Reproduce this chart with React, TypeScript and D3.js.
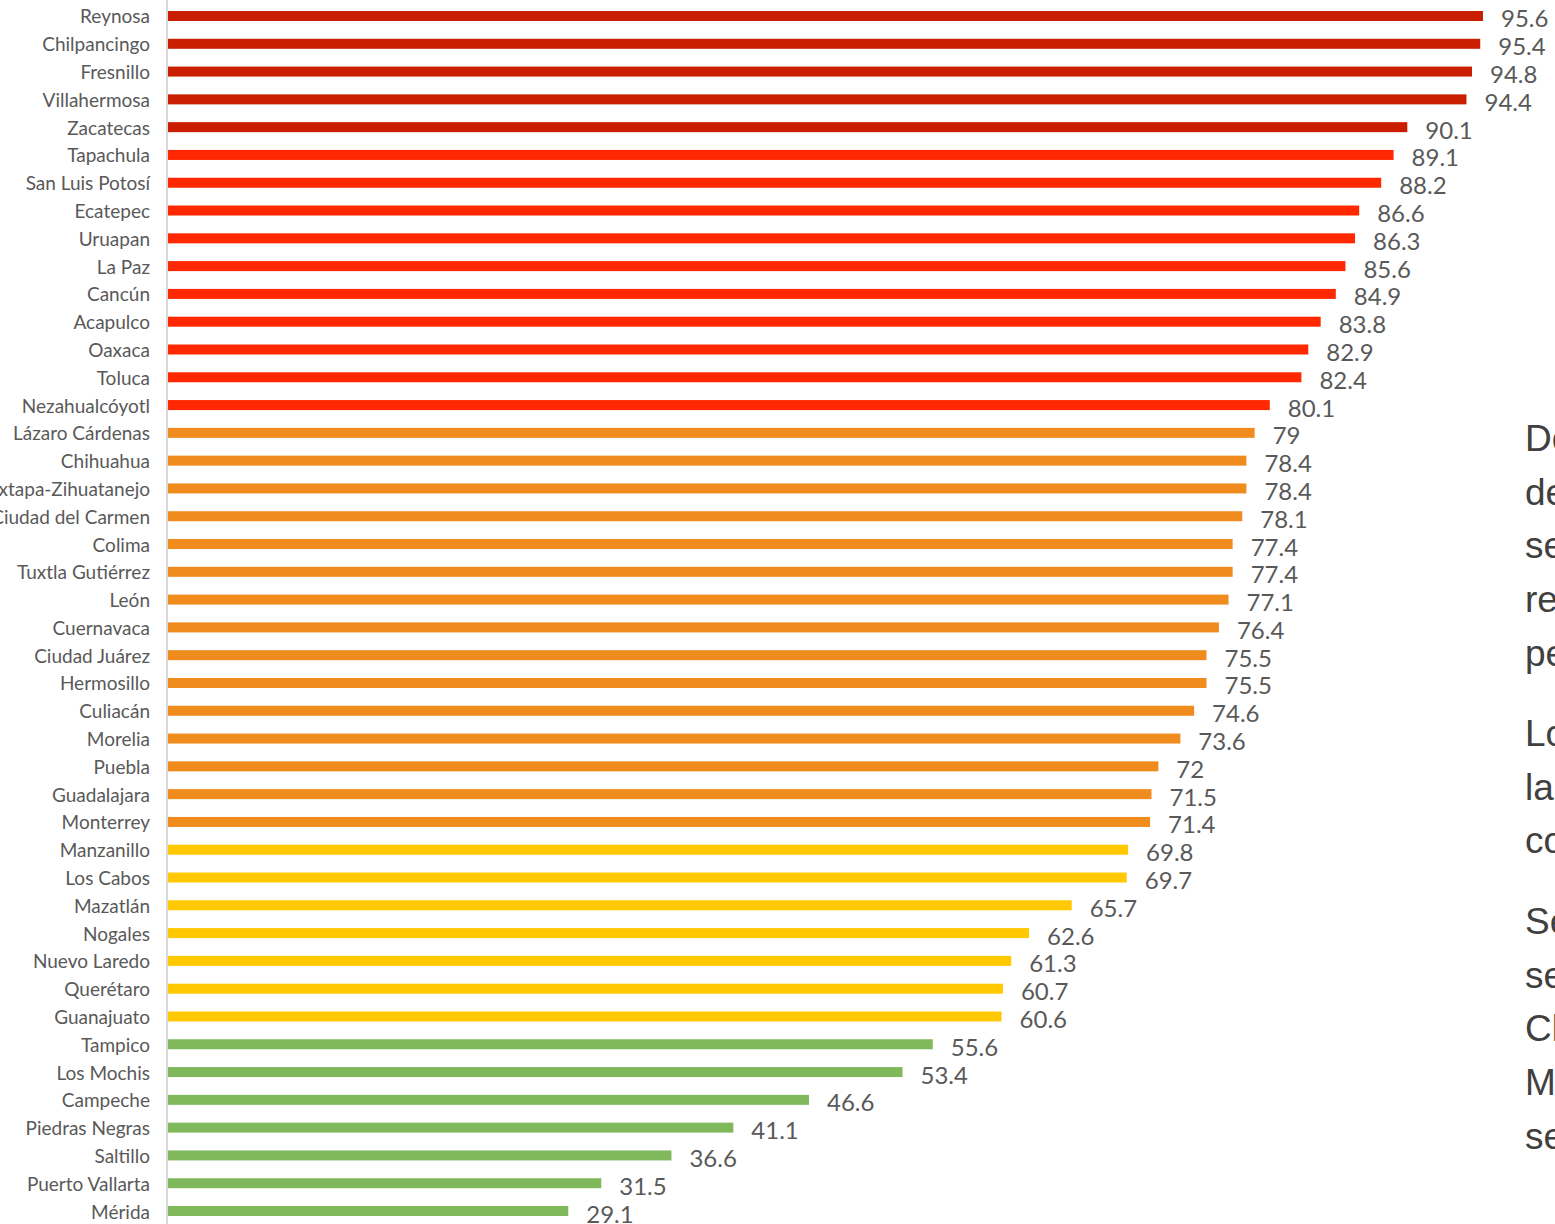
import * as d3 from "d3";

// cities ordered as in the chart, top to bottom
const cities = [
  "Reynosa", "Chilpancingo", "Fresnillo", "Villahermosa", "Zacatecas",
  "Tapachula", "San Luis Potosí", "Ecatepec", "Uruapan", "La Paz",
  "Cancún", "Acapulco", "Oaxaca", "Toluca", "Nezahualcóyotl",
  "Lázaro Cárdenas", "Chihuahua", "Ixtapa-Zihuatanejo", "Ciudad del Carmen", "Colima",
  "Tuxtla Gutiérrez", "León", "Cuernavaca", "Ciudad Juárez", "Hermosillo",
  "Culiacán", "Morelia", "Puebla", "Guadalajara", "Monterrey",
  "Manzanillo", "Los Cabos", "Mazatlán", "Nogales", "Nuevo Laredo",
  "Querétaro", "Guanajuato", "Tampico", "Los Mochis", "Campeche",
  "Piedras Negras", "Saltillo", "Puerto Vallarta", "Mérida",
];

const values = [
  95.6, 95.4, 94.8, 94.4, 90.1,
  89.1, 88.2, 86.6, 86.3, 85.6,
  84.9, 83.8, 82.9, 82.4, 80.1,
  79, 78.4, 78.4, 78.1, 77.4,
  77.4, 77.1, 76.4, 75.5, 75.5,
  74.6, 73.6, 72, 71.5, 71.4,
  69.8, 69.7, 65.7, 62.6, 61.3,
  60.7, 60.6, 55.6, 53.4, 46.6,
  41.1, 36.6, 31.5, 29.1,
];

// colour bands
const breaks = [60, 70, 80, 90];
const bandColors = ["#80b95c", "#ffc800", "#f08b1e", "#ff2800", "#c91f00"];

// side text, cut off by the page edge
const sideParagraphs = [
  ["De", "de", "se", "re", "pe"],
  ["Lo", "la", "co"],
  ["Se", "se", "Cl", "M", "se"],
];

const W = 1555;
const H = 1224;

export default function App() {
  const x = d3.scaleLinear().domain([0, 100]).range([168, 1543.5]);
  const y = d3.scalePoint<string>().domain(cities).range([2.1, 1224.9]).padding(0.5);
  const color = d3.scaleThreshold<number, string>().domain(breaks).range(bandColors);
  const barH = 10;

  const paraStarts = [451, 746, 934];
  const lineStep = 53.7;

  return (
    <svg
      width={W}
      height={H}
      style={{ position: "absolute", left: 0, top: 0, overflow: "hidden", background: "#fff" }}
    >
      <line x1={x(0) - 1} x2={x(0) - 1} y1={0} y2={H} stroke="#d9d9d9" strokeWidth={2} />
      {cities.map((c, i) => {
        const cy = y(c) as number;
        const v = values[i];
        return (
          <g key={c}>
            <text
              x={150}
              y={cy + 7.5}
              textAnchor="end"
              fontFamily="Lato, 'Noto Sans', sans-serif"
              fontSize={19}
              fill="#595959"
            >
              {c}
            </text>
            <rect x={x(0)} y={cy - barH / 2} width={x(v) - x(0)} height={barH} fill={color(v)} />
            <text
              x={x(v) + 18}
              y={cy + 11.5}
              fontFamily="Lato, 'Noto Sans', sans-serif"
              fontSize={24}
              fill="#595959"
            >
              {v}
            </text>
          </g>
        );
      })}
      {sideParagraphs.map((p, pi) =>
        p.map((w, li) => (
          <text
            key={pi + "-" + li}
            x={1525}
            y={paraStarts[pi] + li * lineStep}
            fontFamily="'Liberation Sans', Arial, sans-serif"
            fontSize={37}
            fill="#404040"
          >
            {w}
          </text>
        ))
      )}
    </svg>
  );
}
